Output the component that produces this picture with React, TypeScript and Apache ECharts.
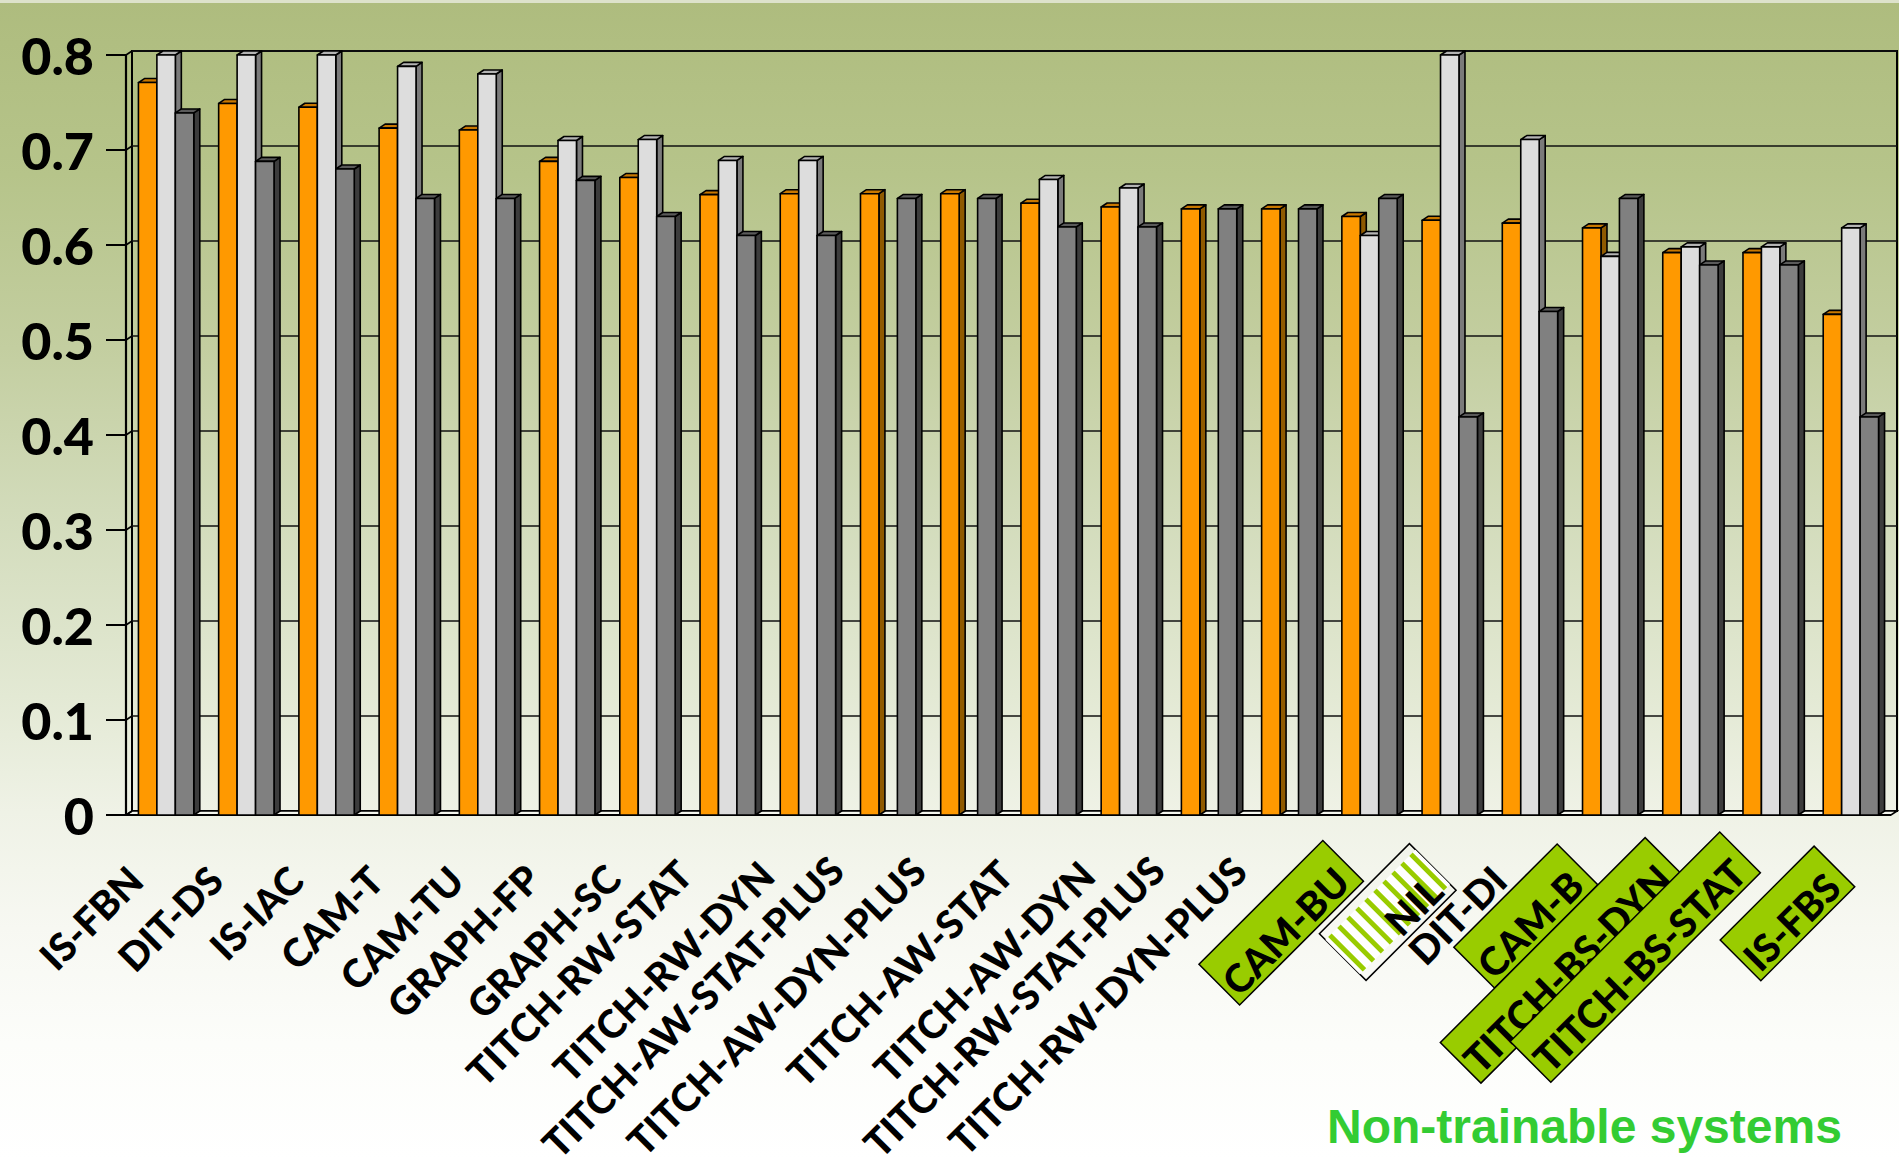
import React, { useEffect, useRef } from "react";
import * as echarts from "echarts";

// Systems on the horizontal axis
const categories = [
  "IS-FBN", "DIT-DS", "IS-IAC", "CAM-T", "CAM-TU", "GRAPH-FP", "GRAPH-SC",
  "TITCH-RW-STAT", "TITCH-RW-DYN", "TITCH-AW-STAT-PLUS", "TITCH-AW-DYN-PLUS",
  "TITCH-AW-STAT", "TITCH-AW-DYN", "TITCH-RW-STAT-PLUS", "TITCH-RW-DYN-PLUS",
  "CAM-BU", "NIL", "DIT-DI", "CAM-B", "TITCH-BS-DYN", "TITCH-BS-STAT", "IS-FBS",
];

// Scores per system (three measures)
const orangeValues = [
  0.771, 0.749, 0.745, 0.723, 0.721, 0.688, 0.671, 0.653, 0.654, 0.654, 0.654,
  0.644, 0.640, 0.638, 0.638, 0.630, 0.626, 0.623, 0.618, 0.592, 0.592, 0.527,
];
const lightValues: (number | null)[] = [
  0.800, 0.800, 0.800, 0.788, 0.780, 0.710, 0.711, 0.689, 0.689, null, null,
  0.669, 0.660, null, null, 0.610, 0.800, 0.711, 0.588, 0.598, 0.598, 0.618,
];
const darkValues = [
  0.739, 0.688, 0.680, 0.649, 0.649, 0.668, 0.630, 0.610, 0.610, 0.649, 0.649,
  0.619, 0.619, 0.638, 0.638, 0.649, 0.419, 0.530, 0.649, 0.579, 0.579, 0.419,
];

const yTicks = [0, 0.1, 0.2, 0.3, 0.4, 0.5, 0.6, 0.7, 0.8];

// Systems marked as non-trainable
const boxedLabels = ["CAM-BU", "CAM-B", "TITCH-BS-DYN", "TITCH-BS-STAT", "IS-FBS"];
const stripedLabels = ["NIL"];
const footnote = "Non-trainable systems";

// 3D depth offset of walls and bars
const DX = 6;
const DY = -4;
const BAR_RATIO = 0.23;

const GRID_LEFT = 126;
const GRID_TOP = 55;
const GRID_W = 1765;
const GRID_H = 760;

// Label placement nudges: `lift` raises a label across its reading direction,
// `back` slides it back along it (both in px)
const plainLift = (n: number) => (n > 6 ? 1.83 * (n - 6) : 0);
const plainBack = (n: number) => (n > 6 ? 0.65 * (n - 6) : 0);
const boxedNudge: Record<string, { lift: number; back: number }> = {
  "CAM-BU": { lift: 11, back: 3 },
  NIL: { lift: 0, back: 0 },
  "CAM-B": { lift: 13, back: 10 },
  "TITCH-BS-DYN": { lift: 12, back: 0 },
  "TITCH-BS-STAT": { lift: 20, back: 0 },
  "IS-FBS": { lift: 0, back: 0 },
};

function stripeImage(w: number, h: number): string {
  const c = document.createElement("canvas");
  c.width = w;
  c.height = h;
  const ctx = c.getContext("2d");
  if (!ctx) return "";
  ctx.fillStyle = "#ffffff";
  ctx.fillRect(0, 0, w, h);
  ctx.fillStyle = "#99CC00";
  for (let x = 4; x < w; x += 13) ctx.fillRect(x, 0, 5, h);
  return c.toDataURL();
}

function barRenderer(slot: number, face: string, top: string, side: string) {
  return (params: any, api: any) => {
    const idx = api.value(0);
    const v = api.value(1);
    const p = api.coord([idx, v]);
    const base = api.coord([idx, 0]);
    const band = api.size([1, 0])[0];
    const bw = band * BAR_RATIO;
    const x0 = p[0] - 1.5 * bw + slot * bw;
    const x1 = x0 + bw;
    const yt = p[1];
    const yb = base[1];
    const st = { stroke: "#000", lineWidth: 1.6, lineJoin: "round" };
    return {
      type: "group",
      children: [
        {
          type: "polygon",
          shape: { points: [[x1, yt], [x1 + DX, yt + DY], [x1 + DX, yb + DY], [x1, yb]] },
          style: { ...st, fill: side },
        },
        {
          type: "polygon",
          shape: { points: [[x0, yt], [x0 + DX, yt + DY], [x1 + DX, yt + DY], [x1, yt]] },
          style: { ...st, fill: top },
        },
        {
          type: "rect",
          shape: { x: x0, y: yt, width: bw, height: yb - yt },
          style: { ...st, fill: face },
        },
      ],
    };
  };
}

function wallRenderer(params: any, api: any) {
  const cs = params.coordSys;
  const v = api.value(1);
  const y = api.coord([0, v])[1];
  const children: any[] = [];
  if (v === 0) {
    children.push({
      type: "polygon",
      shape: {
        points: [
          [cs.x, y],
          [cs.x + cs.width, y],
          [cs.x + cs.width + DX, y + DY],
          [cs.x + DX, y + DY],
        ],
      },
      style: { fill: "#F4F6EE", stroke: "#000", lineWidth: 1.6 },
    });
    children.push({
      type: "line",
      shape: { x1: cs.x, y1: y, x2: cs.x + cs.width, y2: y },
      style: { stroke: "#000", lineWidth: 2.2 },
    });
  }
  children.push({
    type: "line",
    shape: { x1: cs.x, y1: y, x2: cs.x + DX, y2: y + DY },
    style: { stroke: "#000", lineWidth: 1.6 },
  });
  return { type: "group", children };
}

const toPairs = (vals: (number | null)[]) =>
  vals.map((v, i) => (v == null ? null : [i, v])).filter((d) => d !== null);

const isMarked = (name: string) => boxedLabels.includes(name) || stripedLabels.includes(name);

function nudgeOf(name: string) {
  if (isMarked(name)) return boxedNudge[name] || { lift: 0, back: 0 };
  return { lift: plainLift(name.length), back: plainBack(name.length) };
}

// invisible helper tokens: a trailing gap and a second line below the text
function nudgeTokens(name: string) {
  const i = categories.indexOf(name);
  const { lift, back } = nudgeOf(name);
  return (back > 0 ? `{w${i}| }` : "") + (lift > 0 ? `\n{h${i}| }` : "");
}

export default function App() {
  const ref = useRef<HTMLDivElement>(null);

  useEffect(() => {
    if (!ref.current) return;
    const chart = echarts.init(ref.current, undefined, { renderer: "svg" });
    const stripes = stripeImage(130, 50);
    const labelFont = {
      fontFamily: "Lato, 'DejaVu Sans', sans-serif",
      fontWeight: 900 as const,
      fontSize: 39,
      color: "#000",
    };

    const helperStyles: Record<string, any> = {};
    categories.forEach((name, i) => {
      const { lift, back } = nudgeOf(name);
      if (back > 0) helperStyles["w" + i] = { fontSize: 1, width: back };
      if (lift > 0) helperStyles["h" + i] = { fontSize: 1, lineHeight: 2 * lift };
    });

    const hiddenAxisParts = {
      axisLine: { show: false },
      axisTick: { show: false },
      splitLine: { show: false },
    };
    const gridBase = {
      top: GRID_TOP,
      width: GRID_W,
      height: GRID_H,
      outerBoundsMode: "none",
      containLabel: false,
    };

    const option: any = {
      animation: false,
      backgroundColor: new echarts.graphic.LinearGradient(0, 0, 0, 1, [
        { offset: 0, color: "#AEBC7E" },
        { offset: 0.15, color: "#B6C48A" },
        { offset: 0.3, color: "#C3CEA0" },
        { offset: 0.45, color: "#D3DCBC" },
        { offset: 0.6, color: "#E3E9D4" },
        { offset: 0.7, color: "#EFF2E6" },
        { offset: 0.8, color: "#F7F8F2" },
        { offset: 0.9, color: "#FCFDFA" },
        { offset: 1, color: "#FFFFFF" },
      ]),
      grid: [
        // front plane: axis, floor and bars
        { ...gridBase, left: GRID_LEFT },
        // plain category labels
        { ...gridBase, left: GRID_LEFT - 31 },
        // back wall with gridlines
        {
          ...gridBase,
          left: GRID_LEFT + DX,
          top: GRID_TOP + DY,
          show: true,
          borderColor: "#000",
          borderWidth: 2,
          backgroundColor: "transparent",
        },
        // boxed category labels (non-trainable systems)
        { ...gridBase, left: GRID_LEFT - 17 },
      ],
      xAxis: [
        {
          gridIndex: 0,
          type: "category",
          data: categories,
          ...hiddenAxisParts,
          axisLabel: { show: false },
        },
        {
          gridIndex: 1,
          type: "category",
          data: categories,
          ...hiddenAxisParts,
          axisLabel: {
            interval: 0,
            rotate: 45,
            margin: 58,
            ...labelFont,
            formatter: (val: string) => (isMarked(val) ? "" : `{p|${val}}${nudgeTokens(val)}`),
            rich: { p: { ...labelFont }, ...helperStyles },
          },
        },
        {
          gridIndex: 2,
          type: "category",
          data: categories,
          show: false,
        },
        {
          gridIndex: 3,
          type: "category",
          data: categories,
          ...hiddenAxisParts,
          axisLabel: {
            interval: 0,
            rotate: 45,
            margin: 52,
            ...labelFont,
            formatter: (val: string) =>
              boxedLabels.includes(val)
                ? `{g|${val}}${nudgeTokens(val)}`
                : stripedLabels.includes(val)
                ? `{n|${val}}${nudgeTokens(val)}`
                : "",
            rich: {
              g: {
                ...labelFont,
                lineHeight: 30,
                backgroundColor: "#99CC00",
                borderColor: "#000",
                borderWidth: 1.5,
                padding: [17, 10, 0, 4],
              },
              n: {
                ...labelFont,
                lineHeight: 20,
                backgroundColor: { image: stripes },
                borderColor: "#000",
                borderWidth: 1.5,
                padding: [27, 10, 0, 55],
              },
              ...helperStyles,
            },
          },
        },
      ],
      yAxis: [
        {
          gridIndex: 0,
          type: "value",
          min: 0,
          max: 0.8,
          interval: 0.1,
          axisLine: { show: true, lineStyle: { color: "#000", width: 2.2 } },
          axisTick: { show: true, length: 20, lineStyle: { color: "#000", width: 2 } },
          splitLine: { show: false },
          axisLabel: {
            margin: 32,
            fontFamily: "Lato, 'DejaVu Sans', sans-serif",
            fontWeight: 900,
            fontSize: 52,
            color: "#000",
            formatter: (v: number) => (v === 0 ? "0" : v.toFixed(1)),
          },
        },
        { gridIndex: 1, type: "value", min: 0, max: 0.8, show: false },
        {
          gridIndex: 2,
          type: "value",
          min: 0,
          max: 0.8,
          interval: 0.1,
          axisLine: { show: false },
          axisTick: { show: false },
          axisLabel: { show: false },
          splitLine: { show: true, lineStyle: { color: "#111", width: 1.6 } },
        },
        { gridIndex: 3, type: "value", min: 0, max: 0.8, show: false },
      ],
      series: [
        {
          type: "custom",
          xAxisIndex: 0,
          yAxisIndex: 0,
          renderItem: wallRenderer,
          data: yTicks.map((v) => [0, v]),
          silent: true,
          z: 1,
        },
        {
          type: "custom",
          xAxisIndex: 0,
          yAxisIndex: 0,
          renderItem: barRenderer(0, "#FF9900", "#C97800", "#8F5A00"),
          data: toPairs(orangeValues),
          encode: { x: 0, y: 1 },
          z: 2,
        },
        {
          type: "custom",
          xAxisIndex: 0,
          yAxisIndex: 0,
          renderItem: barRenderer(1, "#DDDDDD", "#B4B4B4", "#7A7A7A"),
          data: toPairs(lightValues),
          encode: { x: 0, y: 1 },
          z: 3,
        },
        {
          type: "custom",
          xAxisIndex: 0,
          yAxisIndex: 0,
          renderItem: barRenderer(2, "#808080", "#5A5A5A", "#3C3C3C"),
          data: toPairs(darkValues),
          encode: { x: 0, y: 1 },
          z: 4,
        },
      ],
      graphic: [
        {
          type: "rect",
          left: 0,
          top: 0,
          shape: { width: 1899, height: 3 },
          style: { fill: "#DDE2CB" },
          silent: true,
        },
        {
          type: "text",
          x: 1327,
          y: 1126,
          style: {
            text: footnote,
            fontFamily: "'Liberation Sans', Arial, sans-serif",
            fontWeight: "bold",
            fontSize: 48,
            fill: "#33CC33",
            verticalAlign: "middle",
            align: "left",
          },
          silent: true,
        },
      ],
    };

    chart.setOption(option);
    return () => chart.dispose();
  }, []);

  return (
    <div
      ref={ref}
      style={{ position: "absolute", left: 0, top: 0, width: 1899, height: 1160 }}
    />
  );
}
